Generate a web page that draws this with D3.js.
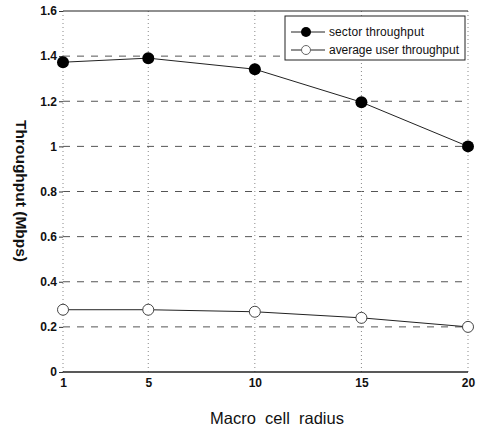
<!DOCTYPE html>
<meta charset="utf-8">
<head>
  <title>Throughput vs macro cell radius</title>
  <script src="https://cdn.jsdelivr.net/npm/d3@7"></script>
  <style>
    body { margin: 0; background: #fff; }
    svg text { font-family: "Liberation Sans", Arial, sans-serif; fill: #111; }
    .tick text { font-weight: bold; font-size: 12px; }
  </style>
</head>
<body>
<div id="chart"></div>
<script>
// data
var radius = [1, 5, 10, 15, 20];
var sectorThroughput = [1.373, 1.391, 1.342, 1.196, 1.0];
var avgUserThroughput = [0.276, 0.276, 0.267, 0.24, 0.2];
var xTicks = [1, 5, 10, 15, 20];
var yTicks = [0, 0.2, 0.4, 0.6, 0.8, 1, 1.2, 1.4, 1.6];
var seriesNames = ["sector throughput", "average user throughput"];

var W = 478, H = 428;
var margin = {top: 11, right: 10, bottom: 56, left: 63};

var svg = d3.select("#chart").append("svg")
    .attr("width", W).attr("height", H);

var x = d3.scaleLinear().domain([1, 20]).range([margin.left, 468]);
var y = d3.scaleLinear().domain([0, 1.6]).range([372, margin.top]);

// grid
svg.append("g").selectAll("line")
  .data(yTicks.filter(function(d){ return d > 0 && d < 1.6; }))
  .enter().append("line")
    .attr("x1", x(1)).attr("x2", x(20))
    .attr("y1", function(d){ return y(d); }).attr("y2", function(d){ return y(d); })
    .attr("stroke", "#555").attr("stroke-width", 1).attr("stroke-dasharray", "7,7");

svg.append("g").selectAll("line")
  .data(xTicks)
  .enter().append("line")
    .attr("x1", function(d){ return x(d); }).attr("x2", function(d){ return x(d); })
    .attr("y1", y(0)).attr("y2", y(1.6))
    .attr("stroke", "#888").attr("stroke-width", 1).attr("stroke-dasharray", "1,3");

// frame: solid top & bottom
svg.append("line").attr("x1", x(1)).attr("x2", x(20)).attr("y1", y(1.6)).attr("y2", y(1.6))
  .attr("stroke", "#222").attr("stroke-width", 1.2);
svg.append("line").attr("x1", x(1)).attr("x2", x(20)).attr("y1", y(0)).attr("y2", y(0))
  .attr("stroke", "#222").attr("stroke-width", 1.5);

// axes
var xAxis = d3.axisBottom(x).tickValues(xTicks).tickSize(0).tickPadding(6)
    .tickFormat(d3.format("d"));
svg.append("g").attr("transform", "translate(0," + y(0) + ")").call(xAxis)
  .call(function(g){ g.select(".domain").remove(); });

var yAxis = d3.axisLeft(y).tickValues(yTicks).tickSize(4).tickPadding(2)
    .tickFormat(function(d){ return d3.format("")(+d.toFixed(1)); });
svg.append("g").attr("transform", "translate(" + x(1) + ",0)").call(yAxis)
  .call(function(g){
    g.select(".domain").remove();
    g.selectAll(".tick line").attr("stroke", "#333");
  });

// lines
var line = d3.line()
  .x(function(d, i){ return x(radius[i]); })
  .y(function(d){ return y(d); });

svg.append("path").datum(sectorThroughput)
  .attr("d", line).attr("fill", "none").attr("stroke", "#222").attr("stroke-width", 1);
svg.append("path").datum(avgUserThroughput)
  .attr("d", line).attr("fill", "none").attr("stroke", "#222").attr("stroke-width", 1);

svg.append("g").selectAll("circle").data(sectorThroughput).enter().append("circle")
  .attr("cx", function(d, i){ return x(radius[i]); })
  .attr("cy", function(d){ return y(d); })
  .attr("r", 6).attr("fill", "#000");

svg.append("g").selectAll("circle").data(avgUserThroughput).enter().append("circle")
  .attr("cx", function(d, i){ return x(radius[i]); })
  .attr("cy", function(d){ return y(d); })
  .attr("r", 5.5).attr("fill", "#fff").attr("stroke", "#444").attr("stroke-width", 1);

// legend
var lg = svg.append("g").attr("transform", "translate(285,16)");
lg.append("rect").attr("width", 180).attr("height", 44)
  .attr("fill", "#fff").attr("stroke", "#222").attr("stroke-width", 1);
seriesNames.forEach(function(name, i){
  var yy = 16 + i * 18;
  lg.append("line").attr("x1", 6).attr("x2", 40).attr("y1", yy).attr("y2", yy)
    .attr("stroke", "#222").attr("stroke-width", 1);
  lg.append("circle").attr("cx", 21).attr("cy", yy).attr("r", i == 0 ? 5 : 4.5)
    .attr("fill", i == 0 ? "#000" : "#fff").attr("stroke", i == 0 ? "none" : "#666");
  lg.append("text").attr("x", 44).attr("y", yy + 4).attr("font-size", "12px")
    .attr("textLength", i == 0 ? 95 : 130).text(name);
});

// axis titles
svg.append("text")
  .attr("x", 277).attr("y", 424).attr("text-anchor", "middle")
  .attr("font-size", "16.5px").attr("xml:space", "preserve")
  .text("Macro  cell  radius");

svg.append("text")
  .attr("transform", "translate(16,191) rotate(90)")
  .attr("text-anchor", "middle").attr("font-size", "15.5px").attr("font-weight", "bold")
  .text("Throughput (Mbps)");
</script>
</body>
</html>
